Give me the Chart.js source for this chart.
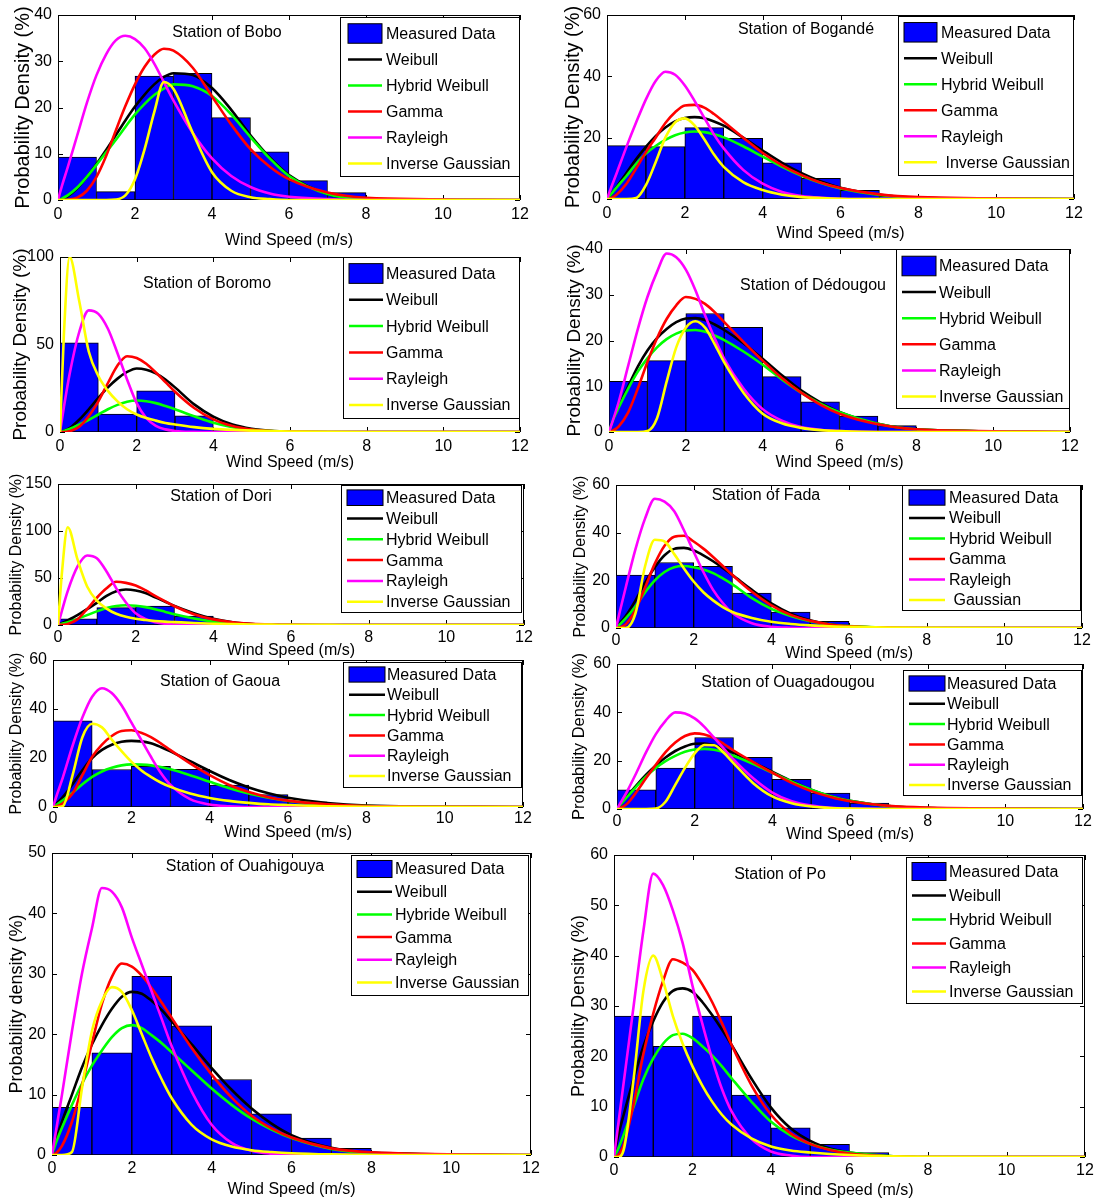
<!DOCTYPE html>
<html lang="en">
<head>
<meta charset="UTF-8">
<title>Wind speed distributions by station</title>
<script src="https://cdn.jsdelivr.net/npm/chart.js"></script>
<style>
  body { margin: 0; background: #fff; }
  #page { position: relative; width: 1096px; height: 1203px; overflow: hidden; background: #fff; }
  #page canvas { position: absolute; }
</style>
</head>
<body>
<div id="page"></div>
<script>
const speeds = [0, 0.1, 0.25, 0.5, 0.75, 1, 1.25, 1.5, 1.75, 2, 2.25, 2.5, 2.75, 3, 3.5, 4, 4.5, 5, 5.5, 6, 7, 8, 12];
// histogram bins of 1 m/s
const binCenters = [0.5, 1.5, 2.5, 3.5, 4.5, 5.5, 6.5, 7.5, 8.5, 9.5, 10.5, 11.5];
const xTicks = [0, 2, 4, 6, 8, 10, 12];
const seriesNames = ['Measured Data', 'Weibull', 'Hybrid Weibull', 'Gamma', 'Rayleigh', 'Inverse Gaussian'];

// Bobo
const boboMeasured = [9.3, 1.8, 26.8, 27.4, 17.8, 10.4, 4.2, 1.6, 0, 0, 0, 0];
const boboWeibull  = [0, 0.2, 0.8, 2.5, 5, 7.8, 10.8, 14, 17.2, 20.2, 22.8, 25, 26.6, 27.4, 27, 24.2, 19.5, 14, 9.2, 5.4, 1.3, 0.2, 0];
const boboHybrid   = [0, 0.3, 1, 2.7, 5, 7.6, 10.3, 13, 15.8, 18.5, 20.8, 22.7, 24.1, 25, 24.6, 22.5, 18.5, 13.6, 9, 5.2, 1.3, 0.2, 0];
const boboGamma    = [0, 0, 0.05, 0.5, 2, 5, 9.5, 15, 20.3, 25, 28.8, 31.4, 32.7, 32.3, 28.6, 22.4, 16.3, 11, 7.2, 4.5, 1.6, 0.5, 0];
const boboRayleigh = [0, 3, 7, 14, 21, 27, 31.5, 34.5, 35.5, 34.8, 32.8, 29.5, 25.5, 21.5, 14.5, 9, 5.2, 2.8, 1.4, 0.7, 0.2, 0, 0];
const boboInvGauss = [0, 0, 0, 0, 0, 0, 0, 0.1, 1, 4.5, 11, 19, 25.5, 24, 14.5, 6, 2, 0.6, 0.2, 0, 0, 0, 0];

// Bogandé
const bogandeMeasured = [17.4, 17.1, 23.3, 19.8, 11.8, 6.7, 2.8, 0.9, 0.2, 0, 0, 0];
const bogandeWeibull  = [0, 1.5, 4, 8.5, 13, 17, 20.5, 23.3, 25.3, 26.4, 26.7, 26.3, 25.3, 23.9, 20, 15.8, 11.8, 8.4, 5.7, 3.7, 1.4, 0.4, 0];
const bogandeHybrid   = [0, 1.5, 3.8, 7.5, 11.5, 14.8, 17.3, 19.3, 20.8, 21.7, 22, 21.8, 21.1, 20.1, 17.2, 13.8, 10.5, 7.6, 5.2, 3.4, 1.3, 0.4, 0];
const bogandeGamma    = [0, 0.3, 1.5, 5, 10, 15.3, 20, 24.8, 28.3, 30.5, 30.7, 29.8, 27.7, 25.2, 20, 15, 11, 7.8, 5.3, 3.6, 1.5, 0.6, 0];
const bogandeRayleigh = [0, 3.5, 8.5, 17, 25, 32.5, 38.5, 41.5, 40.5, 37, 32, 26.5, 21, 16.5, 9.5, 5, 2.3, 1, 0.4, 0.1, 0, 0, 0];
const bogandeInvGauss = [0, 0, 0, 0, 0.3, 4.5, 12, 20, 25, 26.3, 24, 19.5, 14.5, 10.5, 5.5, 2.9, 1.4, 0.6, 0.3, 0.1, 0, 0, 0];

// Boromo
const boromoMeasured = [51, 10.3, 23.5, 9.3, 1.5, 0.3, 0, 0, 0, 0, 0, 0];
const boromoWeibull  = [0, 0.6, 2.2, 7, 13, 19.5, 25.5, 30.5, 34.3, 36.3, 35.6, 33.5, 30, 25.5, 15.8, 8.8, 4.3, 1.9, 0.7, 0.2, 0, 0, 0];
const boromoHybrid   = [0, 0.6, 1.7, 4.2, 7, 10, 13, 15.5, 17.3, 18, 17.6, 16.5, 14.8, 13, 9, 5.3, 2.8, 1.2, 0.5, 0.2, 0, 0, 0];
const boromoGamma    = [0, 0, 0.4, 3, 9, 17.5, 28, 38, 43.3, 42.3, 39, 34, 28.5, 23, 13.7, 7.2, 3.4, 1.4, 0.5, 0.2, 0, 0, 0];
const boromoRayleigh = [0, 14, 33, 57, 69.5, 67.5, 59, 45, 30, 16.5, 8, 3.5, 1.5, 0.6, 0.1, 0, 0, 0, 0, 0, 0, 0, 0];
const boromoInvGauss = [0, 55, 100, 75, 46, 32, 23.5, 17.5, 13, 10, 8, 6.5, 5.2, 4.3, 2.8, 1.8, 1.2, 0.8, 0.5, 0.3, 0.1, 0, 0];

// Dédougou
const dedougouMeasured = [11.1, 15.6, 25.9, 22.9, 12.1, 6.6, 3.5, 1.4, 0.3, 0, 0, 0];
const dedougouWeibull  = [0, 2.5, 5.5, 10, 14.3, 17.8, 20.5, 22.5, 24, 24.8, 24.9, 24.5, 23.5, 22.3, 19.4, 16, 12.4, 9.1, 6.5, 4.4, 1.8, 0.6, 0];
const dedougouHybrid   = [0, 2.5, 5.3, 9.5, 13.2, 16.1, 18.5, 20.3, 21.5, 22.2, 22.3, 21.9, 21.1, 20.1, 17.6, 14.7, 11.5, 8.6, 6.2, 4.3, 1.8, 0.6, 0];
const dedougouGamma    = [0, 0.3, 1.2, 4.3, 9.5, 15.3, 20.5, 24.7, 27.7, 29.5, 29.1, 28, 26.2, 24, 19.7, 15.6, 11.8, 8.6, 6, 4, 1.7, 0.6, 0];
const dedougouRayleigh = [0, 2.5, 6.5, 14.5, 22.5, 29.5, 35, 39, 38.2, 35.5, 31, 25.5, 20.5, 16, 9.5, 5, 2.5, 1.1, 0.5, 0.2, 0, 0, 0];
const dedougouInvGauss = [0, 0, 0, 0, 0, 0.2, 3, 11, 18.5, 22.8, 24.2, 22.8, 19.2, 15.2, 8.6, 4, 1.9, 0.9, 0.4, 0.2, 0, 0, 0];

// Dori
const doriMeasured = [6.5, 18.5, 20, 9.5, 1.5, 0.3, 0, 0, 0, 0, 0, 0];
const doriWeibull  = [0, 2, 5, 10.5, 17, 23.5, 31, 36, 37.8, 36.8, 34, 29.5, 25, 20.2, 12.5, 6.5, 2.9, 1.1, 0.4, 0.1, 0, 0, 0];
const doriHybrid   = [0, 1.2, 3, 6.5, 10.5, 14.5, 18, 20.3, 21, 20.5, 19, 16.8, 14.2, 11.5, 7, 3.6, 1.6, 0.6, 0.2, 0, 0, 0, 0];
const doriGamma    = [0, 0.2, 1.2, 6, 17, 29, 39, 46, 44.8, 42, 37, 31, 25.5, 20, 11.5, 6, 2.8, 1.2, 0.5, 0.2, 0, 0, 0];
const doriRayleigh = [0, 15, 36, 62, 74, 71, 57, 39, 24, 12.5, 6.5, 3, 1.3, 0.5, 0.1, 0, 0, 0, 0, 0, 0, 0, 0];
const doriInvGauss = [0, 55, 104, 70, 41, 26, 17.5, 12, 8.7, 6.6, 5.3, 4.3, 3.6, 3.1, 2.1, 1.4, 0.9, 0.6, 0.4, 0.2, 0.1, 0, 0];

// Fada
const fadaMeasured = [22.2, 27.5, 25.9, 14.7, 6.7, 2.8, 0.4, 0, 0, 0, 0, 0];
const fadaWeibull  = [0, 2, 5, 11.5, 19, 25.5, 30.5, 33.2, 33.6, 32.5, 30.5, 28, 25.2, 22.2, 16, 10.3, 6, 3.2, 1.6, 0.7, 0.1, 0, 0];
const fadaHybrid   = [0, 1.5, 4, 9, 15, 20, 23.5, 25.5, 26, 25.5, 24.5, 23, 20.8, 18.3, 12.5, 8, 5, 2.8, 1.5, 0.8, 0.1, 0, 0];
const fadaGamma    = [0, 0.3, 1.5, 7.5, 17, 27, 34.5, 38.3, 38.7, 36.3, 33.3, 29.8, 26, 22.2, 15.2, 9.5, 5.5, 3, 1.5, 0.7, 0.15, 0, 0];
const fadaRayleigh = [0, 7, 17, 33, 46, 54.2, 53, 49, 41, 32, 23.5, 16, 10.5, 6.3, 2, 0.5, 0.1, 0, 0, 0, 0, 0, 0];
const fadaInvGauss = [0, 0, 0, 6, 26, 37, 36.3, 31, 25, 19.5, 15, 11.6, 8.8, 6.7, 4.2, 2.6, 1.7, 1.1, 0.7, 0.5, 0.2, 0.1, 0];

// Gaoua
const gaouaMeasured = [35.2, 15.3, 16.6, 15.4, 8.9, 5.1, 2.1, 0.7, 0.2, 0, 0, 0];
const gaouaWeibull  = [0, 1.5, 4, 9.3, 15, 20, 23.3, 25.4, 26.6, 27, 26.8, 26, 24.5, 22.7, 18.7, 14.7, 11, 8, 5.6, 3.8, 1.6, 0.6, 0];
const gaouaHybrid   = [0, 1, 2.7, 5.8, 9.3, 12.3, 14.5, 16, 17, 17.4, 17.3, 17, 16.3, 15.4, 13, 10.3, 7.7, 5.5, 3.8, 2.5, 1, 0.4, 0];
const gaouaGamma    = [0, 0.3, 1.5, 5.5, 13, 20.5, 25.5, 29, 31, 31.3, 30.3, 28.5, 26, 23.2, 17.8, 13, 9, 6.1, 4, 2.6, 1.1, 0.4, 0];
const gaouaRayleigh = [0, 5, 12, 25, 36.5, 45, 48.5, 46.5, 41.5, 34.5, 27.5, 20.5, 14, 9, 3.2, 1, 0.3, 0, 0, 0, 0, 0, 0];
const gaouaInvGauss = [0, 0, 0.3, 13, 28.5, 34, 32.5, 27.5, 22.8, 18.5, 15, 12.3, 10, 8.2, 5.5, 3.7, 2.5, 1.7, 1.1, 0.8, 0.3, 0.1, 0];

// Ouagadougou
const ouagaMeasured = [7.9, 16.9, 29.6, 21.4, 12.3, 6.6, 2.5, 0.8, 0.2, 0, 0, 0];
const ouagaWeibull  = [0, 2, 5, 9.8, 14.2, 18, 21.3, 24, 25.9, 27, 27.1, 26.3, 24.9, 23.2, 19.4, 15.4, 11.5, 8, 5.3, 3.4, 1.2, 0.4, 0];
const ouagaHybrid   = [0, 2, 4.8, 9.3, 13.5, 17, 19.8, 22, 23.7, 24.6, 24.9, 24.5, 23.5, 22, 18.7, 15, 11.3, 8, 5.3, 3.4, 1.2, 0.4, 0];
const ouagaGamma    = [0, 0.5, 2, 7, 12.8, 18.3, 23.5, 27.5, 30.2, 31.3, 30.8, 29.3, 26.9, 24.2, 19.5, 15, 10.8, 7.4, 5, 3.2, 1.3, 0.6, 0];
const ouagaRayleigh = [0, 2.8, 7, 15, 23.5, 31, 36.5, 40, 39.5, 37.5, 34, 29.5, 25, 20.5, 12.8, 6.8, 3.2, 1.4, 0.5, 0.2, 0, 0, 0];
const ouagaInvGauss = [0, 0, 0, 0, 0, 0.2, 3, 10, 17, 23, 26.5, 26.4, 23.3, 19, 10.8, 5.2, 2.4, 1, 0.4, 0.2, 0, 0, 0];

// Ouahigouya
const ouahiMeasured = [7.9, 16.9, 29.6, 21.4, 12.5, 6.8, 2.8, 1.1, 0.3, 0, 0, 0];
const ouahiWeibull  = [0, 2.5, 5.5, 10, 14.5, 18.3, 21.5, 24.2, 26.2, 27, 26.7, 25.5, 24, 22.1, 18.3, 14.4, 10.8, 7.7, 5.2, 3.3, 1.2, 0.4, 0];
const ouahiHybrid   = [0, 2, 4.5, 8.3, 11.8, 14.8, 17.3, 19.5, 21, 21.5, 21, 19.8, 18.5, 17, 14, 11, 8.3, 6, 4.2, 2.8, 1, 0.3, 0];
const ouahiGamma    = [0, 0.3, 1.5, 5.5, 11.5, 18.5, 25, 29.5, 31.7, 31.2, 29.7, 27.6, 25.2, 22.7, 17.7, 13.3, 9.5, 6.5, 4.4, 2.9, 1.1, 0.45, 0];
const ouahiRayleigh = [0, 4, 10, 20.5, 30, 37.5, 44.2, 43.6, 41, 36, 31.5, 27, 22.5, 18, 10.5, 5, 2, 0.7, 0.2, 0, 0, 0, 0];
const ouahiInvGauss = [0, 0, 0, 0.5, 11, 20.5, 25.5, 27.8, 27, 24, 20, 16, 12.5, 9.4, 5, 2.6, 1.4, 0.8, 0.5, 0.3, 0.1, 0, 0];

// Po
const poMeasured = [28, 22, 28, 12.3, 5.8, 2.5, 0.9, 0, 0, 0, 0, 0];
const poWeibull  = [0, 4, 8.5, 15.5, 22, 27, 30.8, 33, 33.5, 32.8, 30.8, 28.2, 25.3, 22.2, 15.6, 9.8, 5.7, 3.2, 1.7, 0.9, 0.2, 0, 0];
const poHybrid   = [0, 1.5, 4.5, 10, 15.5, 19.6, 22.5, 24.2, 24.5, 23.6, 22, 20.2, 18, 15.6, 11, 7, 4.3, 2.6, 1.5, 0.9, 0.2, 0, 0];
const poGamma    = [0, 0.3, 2.5, 10.5, 20.5, 28.5, 35, 39.3, 38.6, 37.2, 34.3, 30.8, 26.6, 22.2, 14.3, 8.4, 4.7, 2.6, 1.4, 0.7, 0.15, 0, 0];
const poRayleigh = [0, 6, 15, 30, 45, 56.3, 54, 49, 42.5, 34, 26.5, 19.5, 13.5, 9, 3.6, 1.1, 0.3, 0, 0, 0, 0, 0, 0];
const poInvGauss = [0, 0, 1.5, 15.5, 33, 40, 35, 28, 22.5, 18, 14.2, 11, 8.4, 6.4, 3.7, 2.1, 1.3, 0.9, 0.6, 0.4, 0.15, 0.05, 0];

const FONT = '"Liberation Sans", Arial, Helvetica, sans-serif';
const colors = ['#0000ff', '#000000', '#00ff00', '#ff0000', '#ff00ff', '#ffff00'];

// page layout of each subplot: plot = [left, top, right, bottom] in page pixels
const panels = [
  { title: 'Station of Bobo', titleAt: [227, 33], plot: [58, 15, 520, 200], yMax: 40, yStep: 10,
    yTitleX: 23.5, yTitleSize: 20, xTitleY: 240, tickPad: 4.5,
    legend: { box: [340, 17, 520, 176], rowY: 33.5, gap: 26, sample: [348, 382], textX: 386 },
    bars: boboMeasured, curves: [boboWeibull, boboHybrid, boboGamma, boboRayleigh, boboInvGauss] },
  { title: 'Station of Bogandé', titleAt: [806, 30], plot: [607, 15, 1074, 199], yMax: 60, yStep: 20,
    yTitleX: 573, yTitleSize: 20, xTitleY: 233, tickPad: 4.5,
    legend: { box: [898, 16, 1074, 175], rowY: 32.3, gap: 26, sample: [904, 937], textX: 941 },
    labels: ['Measured Data', 'Weibull', 'Hybrid Weibull', 'Gamma', 'Rayleigh', ' Inverse Gaussian'],
    bars: bogandeMeasured, curves: [bogandeWeibull, bogandeHybrid, bogandeGamma, bogandeRayleigh, bogandeInvGauss] },
  { title: 'Station of Boromo', titleAt: [207, 284], plot: [60, 257, 520, 432], yMax: 100, yStep: 50,
    yTitleX: 21, yTitleSize: 19, xTitleY: 462, tickPad: 5,
    legend: { box: [343, 257, 520, 418], rowY: 273.5, gap: 26.3, sample: [349, 383], textX: 386 },
    bars: boromoMeasured, curves: [boromoWeibull, boromoHybrid, boromoGamma, boromoRayleigh, boromoInvGauss] },
  { title: 'Station of Dédougou', titleAt: [813, 286], plot: [609, 249, 1070, 432], yMax: 40, yStep: 10,
    yTitleX: 575, yTitleSize: 19, xTitleY: 462, tickPad: 4.5,
    legend: { box: [896, 249, 1070, 408], rowY: 266, gap: 26.1, sample: [902, 936], textX: 939 },
    bars: dedougouMeasured, curves: [dedougouWeibull, dedougouHybrid, dedougouGamma, dedougouRayleigh, dedougouInvGauss] },
  { title: 'Station of Dori', titleAt: [221, 497], plot: [58, 484, 524, 625], yMax: 150, yStep: 50,
    yTitleX: 17, yTitleSize: 16, xTitleY: 650, tickPad: 2.5,
    legend: { box: [341, 485, 522, 612], rowY: 497.7, gap: 20.8, sample: [347, 383], textX: 386 },
    bars: doriMeasured, curves: [doriWeibull, doriHybrid, doriGamma, doriRayleigh, doriInvGauss] },
  { title: 'Station of Fada', titleAt: [766, 496], plot: [616, 485, 1082, 628], yMax: 60, yStep: 20,
    yTitleX: 581, yTitleSize: 16, xTitleY: 653, tickPad: 2.5,
    legend: { box: [902, 485, 1081, 610], rowY: 497.5, gap: 20.5, sample: [909, 945], textX: 949 },
    labels: ['Measured Data', 'Weibull', 'Hybrid Weibull', 'Gamma', 'Rayleigh', ' Gaussian'],
    bars: fadaMeasured, curves: [fadaWeibull, fadaHybrid, fadaGamma, fadaRayleigh, fadaInvGauss] },
  { title: 'Station of Gaoua', titleAt: [220, 682], plot: [53, 660, 523, 807], yMax: 60, yStep: 20,
    yTitleX: 17, yTitleSize: 16, xTitleY: 832, tickPad: 2,
    legend: { box: [343, 662, 522, 787], rowY: 674.5, gap: 20.3, sample: [349, 385], textX: 387 },
    bars: gaouaMeasured, curves: [gaouaWeibull, gaouaHybrid, gaouaGamma, gaouaRayleigh, gaouaInvGauss] },
  { title: 'Station of Ouagadougou', titleAt: [788, 683], plot: [617, 664, 1083, 809], yMax: 60, yStep: 20,
    yTitleX: 580, yTitleSize: 16.5, xTitleY: 834, tickPad: 2.5,
    legend: { box: [903, 670, 1082, 795], rowY: 683.5, gap: 20.3, sample: [909, 945], textX: 947 },
    bars: ouagaMeasured, curves: [ouagaWeibull, ouagaHybrid, ouagaGamma, ouagaRayleigh, ouagaInvGauss] },
  { title: 'Station of Ouahigouya', titleAt: [245, 867], plot: [52, 853, 531, 1155], yMax: 50, yStep: 10,
    yTitle: 'Probability density (%)', yTitleX: 17.5, yTitleSize: 18, xTitleY: 1189, tickPad: 3.5,
    legend: { box: [351, 855, 529, 995], rowY: 869, gap: 22.7, sample: [357, 392], textX: 395 },
    labels: ['Measured Data', 'Weibull', 'Hybride Weibull', 'Gamma', 'Rayleigh', 'Inverse Gaussian'],
    bars: ouahiMeasured, curves: [ouahiWeibull, ouahiHybrid, ouahiGamma, ouahiRayleigh, ouahiInvGauss] },
  { title: 'Station of Po', titleAt: [780, 875], plot: [614, 855, 1085, 1157], yMax: 60, yStep: 10,
    yTitleX: 579, yTitleSize: 18, xTitleY: 1190, tickPad: 3.5,
    legend: { box: [906, 857, 1083, 1003], rowY: 871.5, gap: 24, sample: [912, 946], textX: 949 },
    bars: poMeasured, curves: [poWeibull, poHybrid, poGamma, poRayleigh, poInvGauss] }
];

// MATLAB-style frame, inward ticks, text title and boxed legend
function decor(p, ox, oy) {
  return {
    id: 'decor',
    beforeDatasetsDraw(chart) {
      const ctx = chart.ctx, a = chart.chartArea;
      const xs = chart.scales.x, ys = chart.scales.y;
      ctx.save();
      ctx.strokeStyle = '#000';
      ctx.lineWidth = 1;
      ctx.strokeRect(Math.round(a.left) + 0.5, Math.round(a.top) + 0.5,
        Math.round(a.right - a.left) - 1, Math.round(a.bottom - a.top) - 1);
      ctx.beginPath();
      xTicks.forEach(v => {
        const x = Math.round(xs.getPixelForValue(v)) + 0.5;
        ctx.moveTo(x, a.bottom); ctx.lineTo(x, a.bottom - 5);
        ctx.moveTo(x, a.top); ctx.lineTo(x, a.top + 5);
      });
      ys.ticks.forEach(t => {
        const y = Math.round(ys.getPixelForValue(t.value)) + 0.5;
        ctx.moveTo(a.left, y); ctx.lineTo(a.left + 5, y);
        ctx.moveTo(a.right, y); ctx.lineTo(a.right - 5, y);
      });
      ctx.stroke();
      ctx.restore();
    },
    afterDraw(chart) {
      const ctx = chart.ctx;
      const lg = p.legend;
      const labels = p.labels || seriesNames;
      ctx.save();
      ctx.font = '16px ' + FONT;
      ctx.fillStyle = '#000';
      ctx.textAlign = 'center';
      ctx.textBaseline = 'middle';
      ctx.fillText(p.title, p.titleAt[0] - ox, p.titleAt[1] - oy);

      const [bx0, by0, bx1, by1] = lg.box;
      ctx.fillStyle = '#fff';
      ctx.fillRect(bx0 - ox, by0 - oy, bx1 - bx0, by1 - by0);
      ctx.strokeStyle = '#000';
      ctx.lineWidth = 1;
      ctx.strokeRect(Math.round(bx0 - ox) + 0.5, Math.round(by0 - oy) + 0.5, Math.round(bx1 - bx0) - 1, Math.round(by1 - by0));
      ctx.textAlign = 'left';
      labels.forEach((lab, i) => {
        const y = lg.rowY + i * lg.gap - oy;
        const sx0 = lg.sample[0] - ox, sx1 = lg.sample[1] - ox;
        if (i === 0) {
          const h = lg.gap * 0.75;
          ctx.fillStyle = colors[0];
          ctx.fillRect(sx0, y - h / 2, sx1 - sx0, h);
          ctx.strokeStyle = '#000';
          ctx.lineWidth = 1;
          ctx.strokeRect(sx0, y - h / 2, sx1 - sx0, h);
        } else {
          ctx.strokeStyle = colors[i];
          ctx.lineWidth = 2.5;
          ctx.beginPath();
          ctx.moveTo(sx0, y);
          ctx.lineTo(sx1, y);
          ctx.stroke();
        }
        ctx.fillStyle = '#000';
        ctx.fillText(lab, lg.textX - ox, y + 1);
      });
      ctx.restore();
    }
  };
}

const page = document.getElementById('page');

panels.forEach(p => {
  const [L, T, R, B] = p.plot;
  const left = Math.max(0, Math.floor(p.yTitleX - 4 - p.yTitleSize * 1.2 / 2));
  const top = T - 12;
  const right = R + 14;
  const bottom = Math.ceil(p.xTitleY + 4 + 16 * 1.2 / 2);

  const cv = document.createElement('canvas');
  cv.width = right - left;
  cv.height = bottom - top;
  cv.style.left = left + 'px';
  cv.style.top = top + 'px';
  page.appendChild(cv);

  const curveSets = p.curves.map((vals, k) => ({
    type: 'line',
    label: seriesNames[k + 1],
    data: speeds.map((s, i) => ({ x: s, y: vals[i] })),
    borderColor: colors[k + 1],
    borderWidth: 2.6,
    pointRadius: 0,
    fill: false,
    cubicInterpolationMode: 'monotone',
    order: 5 - k
  }));

  new Chart(cv, {
    type: 'bar',
    data: {
      datasets: [{
        type: 'bar',
        label: seriesNames[0],
        data: binCenters.map((c, i) => ({ x: c, y: p.bars[i] })),
        backgroundColor: colors[0],
        borderColor: '#000',
        borderWidth: 1,
        borderSkipped: false,
        barPercentage: 1,
        categoryPercentage: 1,
        order: 10
      }, ...curveSets]
    },
    options: {
      responsive: false,
      animation: false,
      devicePixelRatio: 1,
      layout: { padding: { left: 0, top: T - top, right: right - R, bottom: 0 } },
      plugins: { legend: { display: false }, tooltip: { enabled: false } },
      scales: {
        x: {
          type: 'linear', min: 0, max: 12, offset: false,
          grid: { display: false, drawTicks: false }, border: { display: false },
          ticks: { stepSize: 2, autoSkip: false, maxRotation: 0, padding: p.tickPad, color: '#000',
                   font: { family: FONT, size: 16 } },
          title: { display: true, text: 'Wind Speed (m/s)', color: '#000',
                   font: { family: FONT, size: 16 }, padding: { top: 0, bottom: 4 } },
          afterFit: s => { s.height = bottom - B; s.paddingLeft = 0; s.paddingRight = 0; }
        },
        y: {
          type: 'linear', min: 0, max: p.yMax,
          grid: { display: false, drawTicks: false }, border: { display: false },
          ticks: { stepSize: p.yStep, padding: 6, color: '#000', font: { family: FONT, size: 16 } },
          title: { display: true, text: p.yTitle || 'Probability Density (%)', color: '#000',
                   font: { family: FONT, size: p.yTitleSize }, padding: { top: 4, bottom: 0 } },
          afterFit: s => { s.width = L - left; s.paddingTop = 0; s.paddingBottom = 0; }
        }
      }
    },
    plugins: [decor(p, left, top)]
  });
});
</script>
</body>
</html>
